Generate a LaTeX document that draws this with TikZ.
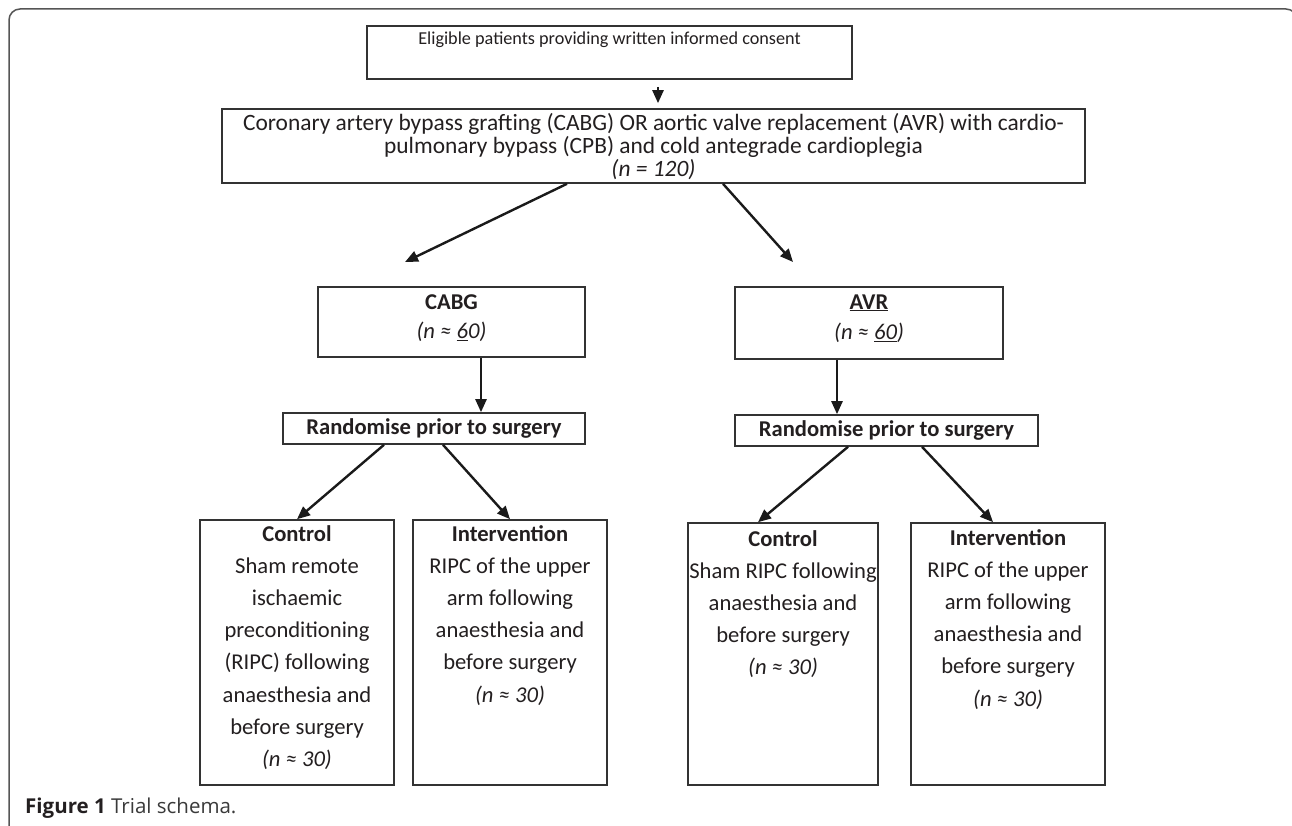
\documentclass[tikz,border=0pt]{standalone}
\usepackage{fontspec}
\setmainfont{Carlito}
\newfontfamily\capfont{Open Sans}
\usetikzlibrary{arrows.meta,calc}
\definecolor{boxline}{HTML}{333333}
\definecolor{arrowc}{HTML}{1A1A1A}
\definecolor{framec}{HTML}{555555}
\definecolor{ink}{HTML}{231F20}
\definecolor{capgray}{HTML}{3A3A3A}
\newcommand{\tl}{\rule{0pt}{0.9em}}
\begin{document}
\begin{tikzpicture}[x=1pt,y=-1pt,
  box/.style={draw=boxline, line width=1.6pt, inner sep=0pt, rectangle},
  txt/.style={anchor=north, inner sep=0pt, align=center, text=ink},
  big/.style={font=\fontsize{22.6}{32.2}\selectfont},
  arr/.style={draw=arrowc, line width=2.4pt, -{Triangle[length=13pt,width=11pt]}},
]
\useasboundingbox (0,0) rectangle (1292,826);
\fill[white] (0,0) rectangle (1292,826);
\draw[framec, line width=1.5pt, rounded corners=11pt] (9,832) -- (9,9) -- (1297,9) -- (1297,832);

% boxes
\node[box, minimum width=485pt, minimum height=53pt] (b1) at (609.5,52.5) {};
\node[box, minimum width=863pt, minimum height=74pt] (b2) at (653.5,146) {};
\node[box, minimum width=267pt, minimum height=70pt] (cabg) at (451.5,322) {};
\node[box, minimum width=268pt, minimum height=72pt] (avr) at (869,323) {};
\node[box, minimum width=302pt, minimum height=31pt, text=ink,
      font=\fontsize{22.6}{27}\selectfont\bfseries] (r1) at (434,428.5) {Randomise prior to surgery};
\node[box, minimum width=303pt, minimum height=31pt, text=ink,
      font=\fontsize{22.6}{27}\selectfont\bfseries] (r2) at (886.5,430.5) {Randomise prior to surgery};
\node[box, minimum width=194pt, minimum height=265pt] (c1) at (297,652.5) {};
\node[box, minimum width=194pt, minimum height=265pt] (i1) at (510,652.5) {};
\node[box, minimum width=190pt, minimum height=262pt] (c2) at (783,654) {};
\node[box, minimum width=194pt, minimum height=262pt] (i2) at (1008,654) {};

% texts
\node[txt, font=\fontsize{18.2}{22}\selectfont] (t1) at ($(b1.north)+(0,3.1)$)
  {\tl Eligible patients providing written informed consent};
\node[txt, font=\fontsize{23.4}{23}\selectfont] (t2) at ($(b2.north)+(0,1.3)$)
  {\tl Coronary artery bypass grafting (CABG) OR aortic valve replacement (AVR) with cardio-\\
   pulmonary bypass (CPB) and cold antegrade cardioplegia\\
   \textit{(n = 120)}};
\node[txt, font=\fontsize{22.6}{29}\selectfont] (t3) at ($(cabg.north)+(0,2.4)$)
  {\tl\textbf{CABG}\\ \textit{(n ≈ \underline{6}0)}};
\node[txt, font=\fontsize{22.6}{30}\selectfont] (t4) at ($(avr.north)+(0,2.4)$)
  {\tl\textbf{\underline{AVR}}\\ \textit{(n ≈ \underline{60})}};
\node[txt, big] (t5) at ($(c1.north)+(0,1.4)$)
  {\tl\textbf{Control}\\ Sham remote\\ ischaemic\\ preconditioning\\ (RIPC) following\\ anaesthesia and\\ before surgery\\ \textit{(n ≈ 30)}};
\node[txt, big] (t6) at ($(i1.north)+(0,1.4)$)
  {\tl\textbf{Intervention}\\ RIPC of the upper\\ arm following\\ anaesthesia and\\ before surgery\\ \textit{(n ≈ 30)}};
\node[txt, big] (t7) at ($(c2.north)+(0,3.4)$)
  {\tl\textbf{Control}\\ Sham RIPC following\\ anaesthesia and\\ before surgery\\ \textit{(n ≈ 30)}};
\node[txt, big] (t8) at ($(i2.north)+(0,2.4)$)
  {\tl\textbf{Intervention}\\ RIPC of the upper\\ arm following\\ anaesthesia and\\ before surgery\\ \textit{(n ≈ 30)}};

% connectors
\coordinate (tipA) at (405,262);
\coordinate (tipB) at (793,262);
\draw[arr, shorten <=7pt, shorten >=5pt] (b1.south -| 658,0) -- (b2.north -| 658,0);
\draw[arr] (b2.south -| 567,0) -- (tipA);
\draw[arr] (b2.south -| 723,0) -- (tipB);
\draw[arr] (cabg.south -| 481,0) -- (r1.north -| 481,0);
\draw[arr] (avr.south -| 837,0) -- (r2.north -| 837,0);
\draw[arr] (r1.south -| 384,0) -- (c1.north -| 297,0);
\draw[arr] (r1.south -| 443,0) -- (i1.north -| 510,0);
\draw[arr] (r2.south -| 848,0) -- (c2.north -| 758,0);
\draw[arr] (r2.south -| 922,0) -- (i2.north -| 993,0);

% caption
\node[anchor=west, inner sep=0pt, text=ink, font=\capfont\fontsize{20.5}{24}\selectfont] (cap) at (25,808)
  {\textbf{Figure 1} \textcolor{capgray}{Trial schema.}};
\end{tikzpicture}
\end{document}
